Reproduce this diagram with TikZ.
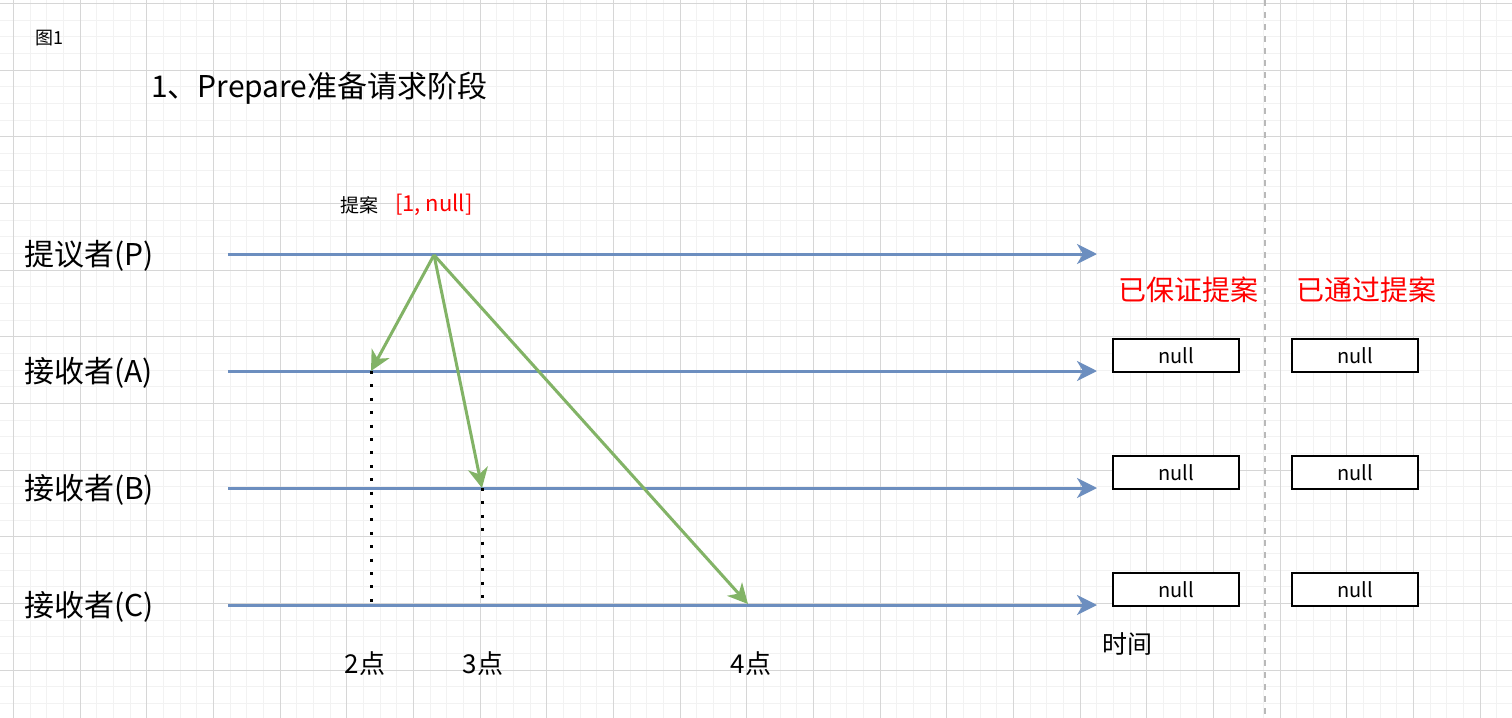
\documentclass[tikz,border=0pt]{standalone}
\usepackage{fontspec}
\setmainfont{Noto Sans CJK SC}
\usetikzlibrary{arrows.meta,positioning}
\definecolor{lifeblue}{HTML}{6C8EBF}
\definecolor{msggreen}{HTML}{82B366}
\definecolor{gridminor}{HTML}{F2F2F2}
\definecolor{gridmajor}{HTML}{D6D6D6}
\tikzset{
  lifeline/.style={draw=lifeblue, line width=1.5pt, -{Stealth[length=10pt,width=10pt,inset=3pt]}},
  msg/.style={draw=msggreen, line width=1.5pt, -{Stealth[length=10pt,width=10pt,inset=3pt]}},
  tick/.style={draw=black, line width=1.5pt, dash pattern=on 1.5pt off 5.2pt},
  role/.style={anchor=west, font=\fontsize{15}{18}\selectfont},
  valbox/.style={draw=black, line width=1pt, minimum width=63pt, minimum height=16.5pt, inner sep=0pt, font=\fontsize{10}{12}\selectfont},
  hdr/.style={text=red, font=\fontsize{14}{17}\selectfont},
  ptlabel/.style={font=\fontsize{13}{16}\selectfont}
}
\begin{document}
\begin{tikzpicture}[x=0.5pt, y=-0.5pt]
  \useasboundingbox (0,0) rectangle (1512,718);
  \fill[white] (0,0) rectangle (1512,718);
  \foreach \i in {-1,...,89}
    \draw[gridminor, line width=0.5pt] (13.333+16.667*\i,0) -- (13.333+16.667*\i,718);
  \foreach \j in {0,...,42}
    \draw[gridminor, line width=0.5pt] (0,3.333+16.667*\j) -- (1512,3.333+16.667*\j);
  \foreach \i in {0,...,22}
    \draw[gridmajor, line width=0.5pt] (13.333+66.667*\i,0) -- (13.333+66.667*\i,718);
  \foreach \j in {0,...,10}
    \draw[gridmajor, line width=0.5pt] (0,3.333+66.667*\j) -- (1512,3.333+66.667*\j);
  \draw[gray!55, line width=1pt, dashed] (1265,0) -- (1265,718);

  \node[anchor=west, font=\fontsize{9}{11}\selectfont] (fig) at (28,38) {图1};
  \node[anchor=west, font=\fontsize{15}{18}\selectfont] (title) at (144,88) {1、Prepare准备请求阶段};
  \node[font=\fontsize{9.5}{11}\selectfont] (prop) at (359,205) {提案};
  \node[anchor=west, text=red, font=\fontsize{11}{13}\selectfont] (propval) at (388,205) {[1, null]};

  \foreach \who/\y in {P/254, A/371, B/488, C/605} {
    \coordinate (s\who) at (228,\y);
    \coordinate (e\who) at (1097,\y);
    \draw[lifeline] (s\who) -- (e\who);
  }
  \node[role] (roleP) at (17,256) {提议者(P)};
  \node[role] (roleA) at (17,373) {接收者(A)};
  \node[role] (roleB) at (17,490) {接收者(B)};
  \node[role] (roleC) at (17,607) {接收者(C)};

  \coordinate (send) at (434,255);
  \coordinate (recvA) at (371,371);
  \coordinate (recvB) at (482,488);
  \coordinate (recvC) at (748,604);
  \coordinate (footA) at (371,605);
  \coordinate (footB) at (482,605);
  \draw[tick] (recvA) -- (footA);
  \draw[tick] (recvB) -- (footB);
  \draw[msg] (send) -- (recvA);
  \draw[msg] (send) -- (recvB);
  \draw[msg] (send) -- (recvC);

  \node[ptlabel] (pt2) at (365,664) {2点};
  \node[ptlabel] (pt3) at (483,664) {3点};
  \node[ptlabel] (pt4) at (751,664) {4点};
  \node[font=\fontsize{12.5}{15}\selectfont] (time) at (1127,644) {时间};

  \node[hdr] (promised) at (1188,290) {已保证提案};
  \node[hdr] (accepted) at (1366,290) {已通过提案};
  \foreach \who/\y in {A/355.5, B/472.5, C/589.5} {
    \node[valbox, fill=white] (prom\who) at (1176,\y) {null};
    \node[valbox, fill=white] (acc\who) at (1355,\y) {null};
  }
\end{tikzpicture}
\end{document}
